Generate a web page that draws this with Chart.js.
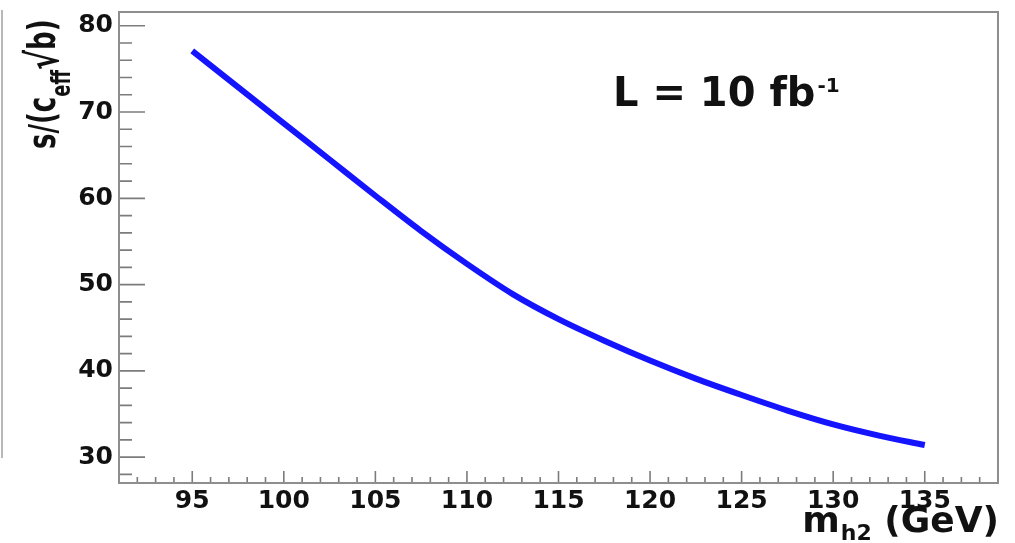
<!DOCTYPE html>
<html>
<head>
<meta charset="utf-8">
<script src="https://cdn.jsdelivr.net/npm/chart.js@4.4.0/dist/chart.umd.min.js"></script>
<style>
  html, body { margin: 0; padding: 0; background: #fff; }
  #wrap { position: relative; width: 1015px; height: 543px; }
  #edge { position: absolute; left: 1px; top: 10px; width: 2px; height: 448px; background: #b8b8b8; }
</style>
</head>
<body>
<div id="wrap">
  <div id="edge"></div>
  <canvas id="sigChart" width="1015" height="543"></canvas>
</div>
<script>
// curve: m_h2 (GeV) vs s/(c_eff sqrt(b))
var massPoints = [95, 97.5, 100, 102.5, 105, 107.5, 110, 112.5, 115, 117.5, 120, 122.5, 125, 127.5, 130, 132.5, 135];
var significance = [77.1, 72.9, 68.7, 64.5, 60.3, 56.2, 52.4, 48.9, 46.0, 43.5, 41.2, 39.1, 37.2, 35.4, 33.8, 32.5, 31.4];

var xTickValues = [95, 100, 105, 110, 115, 120, 125, 130, 135];
var yTickValues = [30, 40, 50, 60, 70, 80];

var xRange = [91, 139];
var yRange = [27.0, 81.6];

var lumiText = "L = 10 fb";
var lumiSup = "-1";

var fontFam = "'DejaVu Sans', sans-serif";

// minor tick positions (every 1 GeV on x, every 2 on y)
var xMinor = [];
for (var i = 92; i <= 138; i++) xMinor.push(i);
var yMinor = [];
for (var j = 28; j <= 80; j += 2) yMinor.push(j);

var rootFrame = {
  id: 'rootFrame',
  afterDraw(chart) {
    var c = chart.ctx, a = chart.chartArea;
    var xs = chart.scales.x, ys = chart.scales.y;
    c.save();

    // ticks pointing into the frame, ROOT style
    c.strokeStyle = '#7c7c7c';
    c.lineWidth = 1.6;
    c.beginPath();
    yMinor.forEach(function (v) {
      var p = ys.getPixelForValue(v);
      var len = yTickValues.indexOf(v) >= 0 ? 26 : 13;
      c.moveTo(a.left, p);
      c.lineTo(a.left + len, p);
    });
    xMinor.forEach(function (v) {
      var p = xs.getPixelForValue(v);
      var len = xTickValues.indexOf(v) >= 0 ? 12 : 6;
      c.moveTo(p, a.bottom);
      c.lineTo(p, a.bottom - len);
    });
    c.stroke();

    // frame
    c.strokeStyle = '#8e8e8e';
    c.lineWidth = 2;
    c.strokeRect(a.left, a.top, a.right - a.left, a.bottom - a.top);

    c.fillStyle = '#111';
    c.textBaseline = 'alphabetic';
    c.textAlign = 'left';

    // luminosity label
    c.font = 'bold 40px ' + fontFam;
    c.fillText(lumiText, 613, 106);
    var lw = c.measureText(lumiText).width;
    c.font = 'bold 20px ' + fontFam;
    c.fillText(lumiSup, 613 + lw + 2, 92);

    // x title: m_h2 (GeV), right aligned to the frame
    var big = 'bold 36px ' + fontFam, small = 'bold 22px ' + fontFam;
    c.font = big;
    var wM = c.measureText('m').width;
    var wG = c.measureText(' (GeV)').width;
    c.font = small;
    var wS = c.measureText('h2').width;
    var x0 = a.right - (wM + wS + wG);
    c.font = big;
    c.fillText('m', x0, 532);
    c.font = small;
    c.fillText('h2', x0 + wM + 1, 540);
    c.font = big;
    c.fillText(' (GeV)', x0 + wM + wS + 1, 532);

    // y title: s/(c_eff sqrt b), rotated
    c.translate(55, 149);
    c.rotate(-Math.PI / 2);
    c.scale(1, 1.45);
    var yb = 'bold 26px ' + fontFam, ys2 = 'bold 18px ' + fontFam;
    var px = 0;
    c.font = yb;
    c.fillText('s/(c', px, 0);
    px += c.measureText('s/(c').width;
    c.font = ys2;
    c.fillText('eff', px, 10);
    px += c.measureText('eff').width;
    c.font = 'bold 30px ' + fontFam;
    c.fillText('\u221A', px, 2);
    px += c.measureText('\u221A').width;
    c.font = yb;
    c.fillText('b)', px, 0);

    c.restore();
  }
};

var ctx = document.getElementById('sigChart').getContext('2d');
var sigChart = new Chart(ctx, {
  type: 'line',
  data: {
    datasets: [{
      data: massPoints.map(function (m, i) { return { x: m, y: significance[i] }; }),
      borderColor: '#1414ff',
      borderWidth: 6,
      borderCapStyle: 'butt',
      pointRadius: 0,
      cubicInterpolationMode: 'monotone',
      fill: false
    }]
  },
  options: {
    responsive: false,
    animation: false,
    layout: { padding: { left: 0, right: 17, top: 12, bottom: 0 } },
    plugins: {
      legend: { display: false },
      tooltip: { enabled: false }
    },
    scales: {
      x: {
        type: 'linear',
        min: xRange[0],
        max: xRange[1],
        afterBuildTicks: function (s) { s.ticks = xTickValues.map(function (v) { return { value: v }; }); },
        afterFit: function (s) {
          s.height = 60;
          s.paddingLeft = 0;
          s.paddingRight = 0;
        },
        grid: { display: false, drawTicks: false },
        border: { display: false },
        ticks: {
          font: { family: fontFam, size: 25, weight: 'bold' },
          color: '#111',
          padding: 3,
          maxRotation: 0,
          autoSkip: false
        }
      },
      y: {
        min: yRange[0],
        max: yRange[1],
        afterBuildTicks: function (s) { s.ticks = yTickValues.map(function (v) { return { value: v }; }); },
        afterFit: function (s) {
          s.width = 119;
          s.paddingTop = 0;
          s.paddingBottom = 0;
        },
        grid: { display: false, drawTicks: false },
        border: { display: false },
        ticks: {
          font: { family: fontFam, size: 25, weight: 'bold' },
          color: '#111',
          padding: 6,
          autoSkip: false
        }
      }
    }
  },
  plugins: [rootFrame]
});
</script>
</body>
</html>
